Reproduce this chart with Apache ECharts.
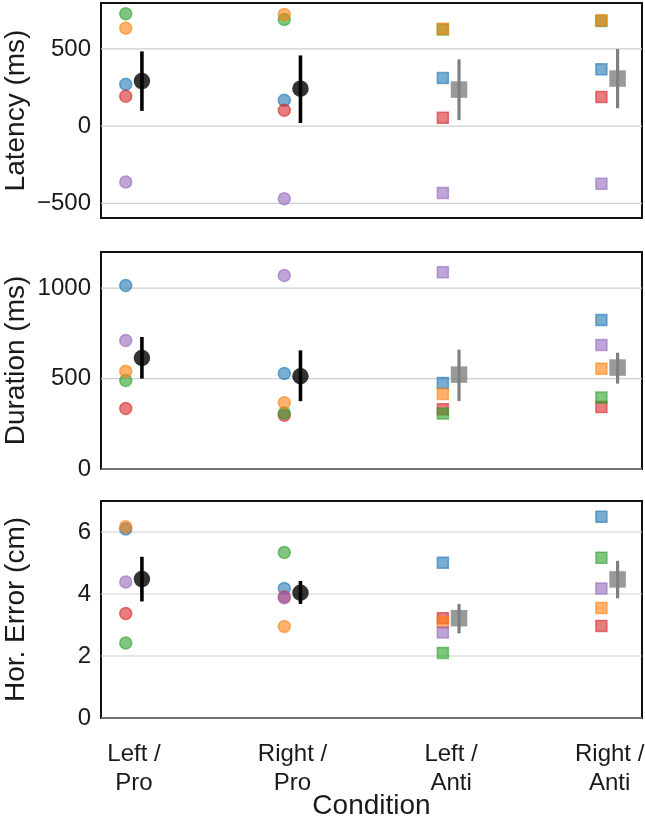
<!DOCTYPE html>
<html>
<head>
<meta charset="utf-8">
<style>
  html, body { margin: 0; padding: 0; background: #fff; }
  #chart { width: 645px; height: 817px; }
</style>
<script src="https://cdn.jsdelivr.net/npm/echarts@6/dist/echarts.min.js"></script>
</head>
<body>
<div id="chart"></div>
<script>
// ---- Data ----
const categories = ['Left /\nPro', 'Right /\nPro', 'Left /\nAnti', 'Right /\nAnti'];
const conditionSymbols = ['circle', 'circle', 'rect', 'rect'];
const meanColors = ['#000000', '#000000', '#7f7f7f', '#7f7f7f'];
const subjectNames = ['S1', 'S2', 'S3', 'S4', 'S5'];
const subjectColors = ['#1f77b4', '#ff7f0e', '#2ca02c', '#d62728', '#9467bd'];
const drawOrder = [0, 3, 2, 1, 4];

// Latency (ms): per subject, per condition
const latencyS1 = [271, 168, 312, 368];
const latencyS2 = [634, 723, 630, 685];
const latencyS3 = [727, 690, 625, 680];
const latencyS4 = [194, 103, 54, 189];
const latencyS5 = [-361, -469, -432, -372];
const latencyMean = [292, 243, 237, 308];
const latencyLow = [99, 21, 39, 116];
const latencyHigh = [484, 458, 432, 499];
const latencyTicks = [-500, 0, 500];

// Duration (ms)
const durationS1 = [1015, 528, 476, 824];
const durationS2 = [540, 367, 415, 555];
const durationS3 = [489, 310, 307, 395];
const durationS4 = [334, 297, 331, 343];
const durationS5 = [711, 1070, 1088, 686];
const durationMean = [614, 513, 522, 561];
const durationLow = [500, 375, 376, 472];
const durationHigh = [730, 656, 660, 643];
const durationTicks = [0, 500, 1000];

// Horizontal error (cm)
const horErrS1 = [6.10, 4.18, 5.01, 6.49];
const horErrS2 = [6.17, 2.95, 3.08, 3.55];
const horErrS3 = [2.42, 5.34, 2.10, 5.17];
const horErrS4 = [3.37, 3.90, 3.22, 2.97];
const horErrS5 = [4.39, 3.88, 2.76, 4.18];
const horErrMean = [4.48, 4.04, 3.22, 4.47];
const horErrLow = [3.76, 3.68, 2.73, 3.86];
const horErrHigh = [5.20, 4.42, 3.68, 5.07];
const horErrTicks = [0, 2, 4, 6];

// ---- Build ----
const FONT = 'Liberation Sans, Arial, Helvetica, sans-serif';
const TXT = '#1a1a1a';
const X_MIN = -0.208, X_MAX = 3.204;
const SUBJ_OFF = -0.052, MEAN_OFF = 0.05;

const panels = [
  { name: 'Latency (ms)', subj: [latencyS1, latencyS2, latencyS3, latencyS4, latencyS5],
    mean: latencyMean, lo: latencyLow, hi: latencyHigh, ticks: latencyTicks, min: -594, max: 797,
    grid: { top: 3, height: 215 } },
  { name: 'Duration (ms)', subj: [durationS1, durationS2, durationS3, durationS4, durationS5],
    mean: durationMean, lo: durationLow, hi: durationHigh, ticks: durationTicks, min: 0, max: 1200,
    grid: { top: 252, height: 217 } },
  { name: 'Hor. Error (cm)', subj: [horErrS1, horErrS2, horErrS3, horErrS4, horErrS5],
    mean: horErrMean, lo: horErrLow, hi: horErrHigh, ticks: horErrTicks, min: 0, max: 7,
    grid: { top: 501, height: 217 } }
];

const grids = [], xAxes = [], yAxes = [], series = [];

panels.forEach((p, pi) => {
  grids.push({ left: 101, right: 3, top: p.grid.top, height: p.grid.height,
    outerBoundsMode: 'none', containLabel: false,
    show: true, borderColor: '#111', borderWidth: 2, backgroundColor: 'transparent' });
  const last = pi === panels.length - 1;
  xAxes.push({
    type: 'value', gridIndex: pi, min: X_MIN, max: X_MAX,
    axisLine: { show: false }, axisTick: { show: false }, splitLine: { show: false },
    axisLabel: last ? {
      show: true, customValues: [0, 1, 2, 3],
      formatter: v => categories[Math.round(v)],
      fontFamily: FONT, fontSize: 24, color: TXT, lineHeight: 29, margin: 22, align: 'center',
      hideOverlap: false
    } : { show: false },
    name: last ? 'Condition' : '', nameLocation: 'middle', nameGap: 74, nameMoveOverlap: false,
    nameTextStyle: { fontFamily: FONT, fontSize: 28, color: TXT, lineHeight: 28 }
  });
  yAxes.push({
    type: 'value', gridIndex: pi, min: p.min, max: p.max,
    axisLine: { show: false }, axisTick: { show: false }, splitLine: { show: false },
    axisLabel: {
      customValues: p.ticks,
      formatter: v => (v < 0 ? '\u2212' + Math.abs(v) : String(v)),
      fontFamily: FONT, fontSize: 24, color: TXT, margin: 10
    },
    name: p.name, nameLocation: 'middle', nameGap: 71, nameRotate: 90, nameMoveOverlap: false,
    nameTextStyle: { fontFamily: FONT, fontSize: 28, color: TXT }
  });

  // gridlines
  series.push({
    type: 'custom', xAxisIndex: pi, yAxisIndex: pi, z: 0, silent: true,
    data: p.ticks.map(v => [v]),
    renderItem: (params, api) => {
      const cs = params.coordSys;
      const y = api.coord([0, api.value(0)])[1];
      return { type: 'line', shape: { x1: cs.x, y1: y, x2: cs.x + cs.width, y2: y },
        style: { stroke: '#cfcfcf', lineWidth: 1.2 } };
    }
  });

  // subjects (drawn in a fixed order so overlaps stack like the reference)
  drawOrder.forEach((si, rank) => {
    const vals = p.subj[si];
    series.push({
      type: 'scatter', name: subjectNames[si], xAxisIndex: pi, yAxisIndex: pi, z: 2 + rank * 0.01,
      data: vals.map((v, ci) => ({
        value: [ci + SUBJ_OFF, v],
        symbol: conditionSymbols[ci],
        symbolSize: ci < 2 ? 12 : 11
      })),
      itemStyle: { color: subjectColors[si], opacity: 0.6, borderColor: subjectColors[si], borderWidth: 1.5 },
      silent: true
    });
  });

  // error bars
  series.push({
    type: 'custom', xAxisIndex: pi, yAxisIndex: pi, z: 3, silent: true,
    data: p.mean.map((m, ci) => [ci + MEAN_OFF, p.lo[ci], p.hi[ci], ci]),
    renderItem: (params, api) => {
      const a = api.coord([api.value(0), api.value(1)]);
      const b = api.coord([api.value(0), api.value(2)]);
      const ci = api.value(3);
      return { type: 'line', shape: { x1: a[0], y1: a[1], x2: b[0], y2: b[1] },
        style: { stroke: meanColors[ci], lineWidth: ci < 2 ? 3.6 : 3.2 } };
    }
  });

  // means
  series.push({
    type: 'scatter', xAxisIndex: pi, yAxisIndex: pi, z: 4, silent: true,
    data: p.mean.map((m, ci) => ({
      value: [ci + MEAN_OFF, m],
      symbol: conditionSymbols[ci],
      symbolSize: 16.5,
      itemStyle: { color: meanColors[ci] }
    }))
  });
});

const chart = echarts.init(document.getElementById('chart'), null, { renderer: 'canvas' });
chart.setOption({
  backgroundColor: '#ffffff',
  animation: false,
  grid: grids,
  xAxis: xAxes,
  yAxis: yAxes,
  series: series
});
</script>
</body>
</html>
